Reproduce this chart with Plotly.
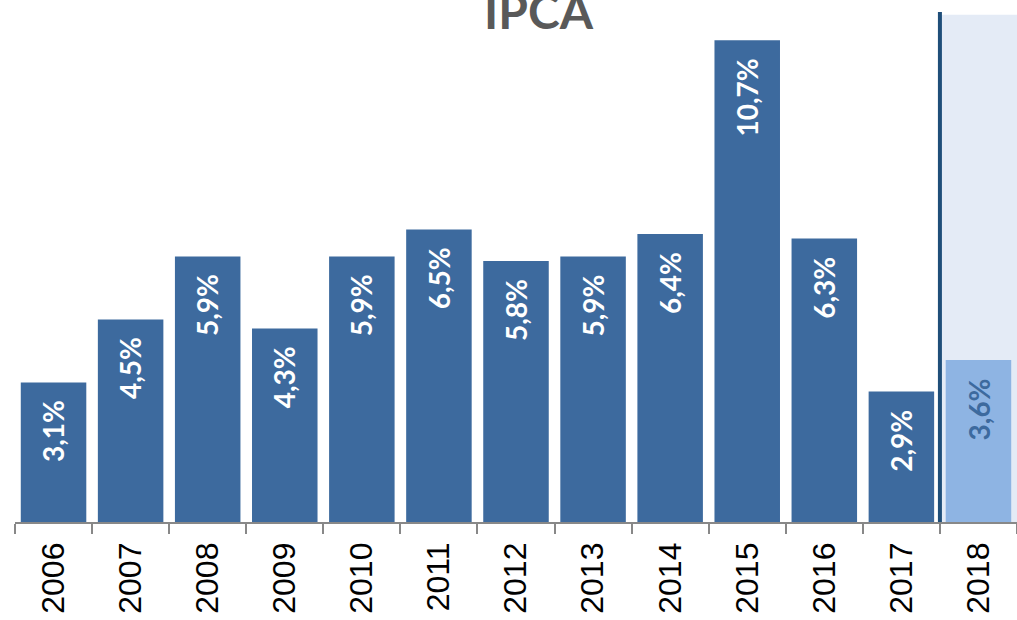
import plotly.graph_objects as go

years = ["2006", "2007", "2008", "2009", "2010", "2011", "2012",
         "2013", "2014", "2015", "2016", "2017", "2018"]
ipca = [3.1, 4.5, 5.9, 4.3, 5.9, 6.5, 5.8, 5.9, 6.4, 10.7, 6.3, 2.9, 3.6]
labels = [f"{v:.1f}%".replace(".", ",") for v in ipca]

bar_colors = ["#3d6a9e"] * 12 + ["#8eb4e3"]
text_colors = ["#ffffff"] * 12 + ["#3d6a9e"]

fig = go.Figure()
fig.add_trace(go.Bar(
    x=years, y=ipca,
    marker=dict(color=bar_colors, line=dict(width=0)),
    cliponaxis=False, hoverinfo="x+y",
))

for i, (v, lab, tc) in enumerate(zip(ipca, labels, text_colors)):
    fig.add_annotation(x=i, y=v, text=f"<b>{lab}</b>", textangle=-90,
                       xref="x", yref="y", yanchor="top", xanchor="center",
                       yshift=-16, showarrow=False,
                       font=dict(family="Lato", size=28, color=tc))

fig.add_shape(type="rect", xref="x", yref="y", x0=11.5, x1=12.6, y0=0, y1=11.27,
              fillcolor="#e4ebf6", line=dict(width=0), layer="below")
fig.add_shape(type="line", xref="x", yref="y", x0=11.5, x1=11.5, y0=0, y1=11.33,
              line=dict(color="#1f4e79", width=4), layer="above")

fig.add_annotation(text="<b>IPCA</b>", xref="paper", yref="paper",
                   x=(539 - 15) / 1002, y=1,
                   yanchor="middle", yshift=2, showarrow=False,
                   font=dict(family="Lato", size=48, color="#595959"))

fig.update_xaxes(type="category", range=[-0.5, 12.5], autorange=False,
                 tickson="boundaries", ticks="outside", ticklen=10,
                 tickcolor="#888888", tickwidth=1.5, showline=True, linecolor="#888888",
                 linewidth=1.5, tickangle=-90, showgrid=False, ticklabelstandoff=6,
                 tickfont=dict(family="Liberation Sans", size=32, color="#000000"))
fig.update_yaxes(range=[0, 11.33], autorange=False, visible=False, showgrid=False)

fig.update_layout(width=1017, height=620, margin=dict(l=15, r=0, t=12, b=98),
                  plot_bgcolor="white", paper_bgcolor="white", bargap=0.15,
                  showlegend=False)

fig.write_html("out.html", config={"displayModeBar": False},
               post_script="document.body.style.margin='0';")
